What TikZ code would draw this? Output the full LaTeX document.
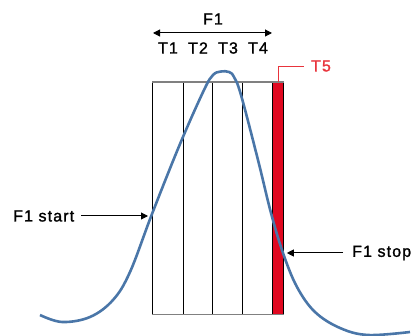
\documentclass[tikz,border=0pt]{standalone}
\usepackage{fontspec}
\setmainfont{Liberation Sans}
\usetikzlibrary{arrows.meta,positioning}
\definecolor{curveblue}{RGB}{74,118,168}
\definecolor{slotred}{RGB}{224,8,32}
\definecolor{labelred}{RGB}{232,52,60}

\begin{document}
\begin{tikzpicture}[x=1pt,y=-1pt]
\tikzset{
  lbl/.style={font=\fontsize{16}{18}\selectfont\addfontfeatures{LetterSpace=7,FakeBold=1.5},inner sep=0pt},
  pointer/.style={-{Triangle[length=7pt,width=7pt]},line width=1pt},
  slot/.style={draw,line width=0.8pt,minimum height=232pt,inner sep=0pt,anchor=north west}
}
\useasboundingbox (0,0) rectangle (418,336);
% time slots
\node[slot,minimum width=31pt] (s1) at (152,82) {};
\node[slot,minimum width=29pt] (s2) at (183,82) {};
\node[slot,minimum width=30pt] (s3) at (212,82) {};
\node[slot,minimum width=30pt] (s4) at (242,82) {};
\node[slot,minimum width=11pt,fill=slotred] (s5) at (272,82) {};
\draw[gray,line width=1.2pt] (s1.north west) -- (s5.north east);
\draw[gray,line width=1.2pt] (s1.south west) -- (s5.south east);
% labels on top
\node[lbl] (f1) at (213,19) {F1};
\node[lbl] (t1) at (168,48) {T1};
\node[lbl] (t2) at (198,48) {T2};
\node[lbl] (t3) at (228,48) {T3};
\node[lbl] (t4) at (258,48) {T4};
\coordinate (f1l) at (153,33);
\coordinate (f1r) at (272,33);
\draw[pointer,{Triangle[length=7pt,width=7pt]}-{Triangle[length=7pt,width=7pt]}] (f1l) -- (f1r);
\node[lbl,text=labelred] (t5) at (321,66) {T5};
\draw[labelred,line width=0.8pt] (s5.north) |- ([xshift=-7pt]t5.west);
% peak
\draw[curveblue,line width=2.6pt] plot[smooth,tension=0.6] coordinates {
  (40,315) (62,322) (90,317) (113,300) (130,272) (152,214) (180,144)
  (204,90) (213,75) (221,71.5) (229,72) (234,77) (241,95) (258,160)
  (271,213) (283,253) (297,287) (315,312) (340,328) (368,335) (410,332)};
% start and stop
\node[lbl,anchor=west] (start) at (13,216) {F1 start};
\draw[pointer] ([xshift=7pt]start.east) -- ([xshift=-4pt]s1.west |- start.east);
\node[lbl,anchor=west] (stop) at (352,253) {F1 stop};
\draw[pointer] ([xshift=-9pt]stop.west) -- ([xshift=3pt]s5.east |- stop.west);
\end{tikzpicture}
\end{document}
